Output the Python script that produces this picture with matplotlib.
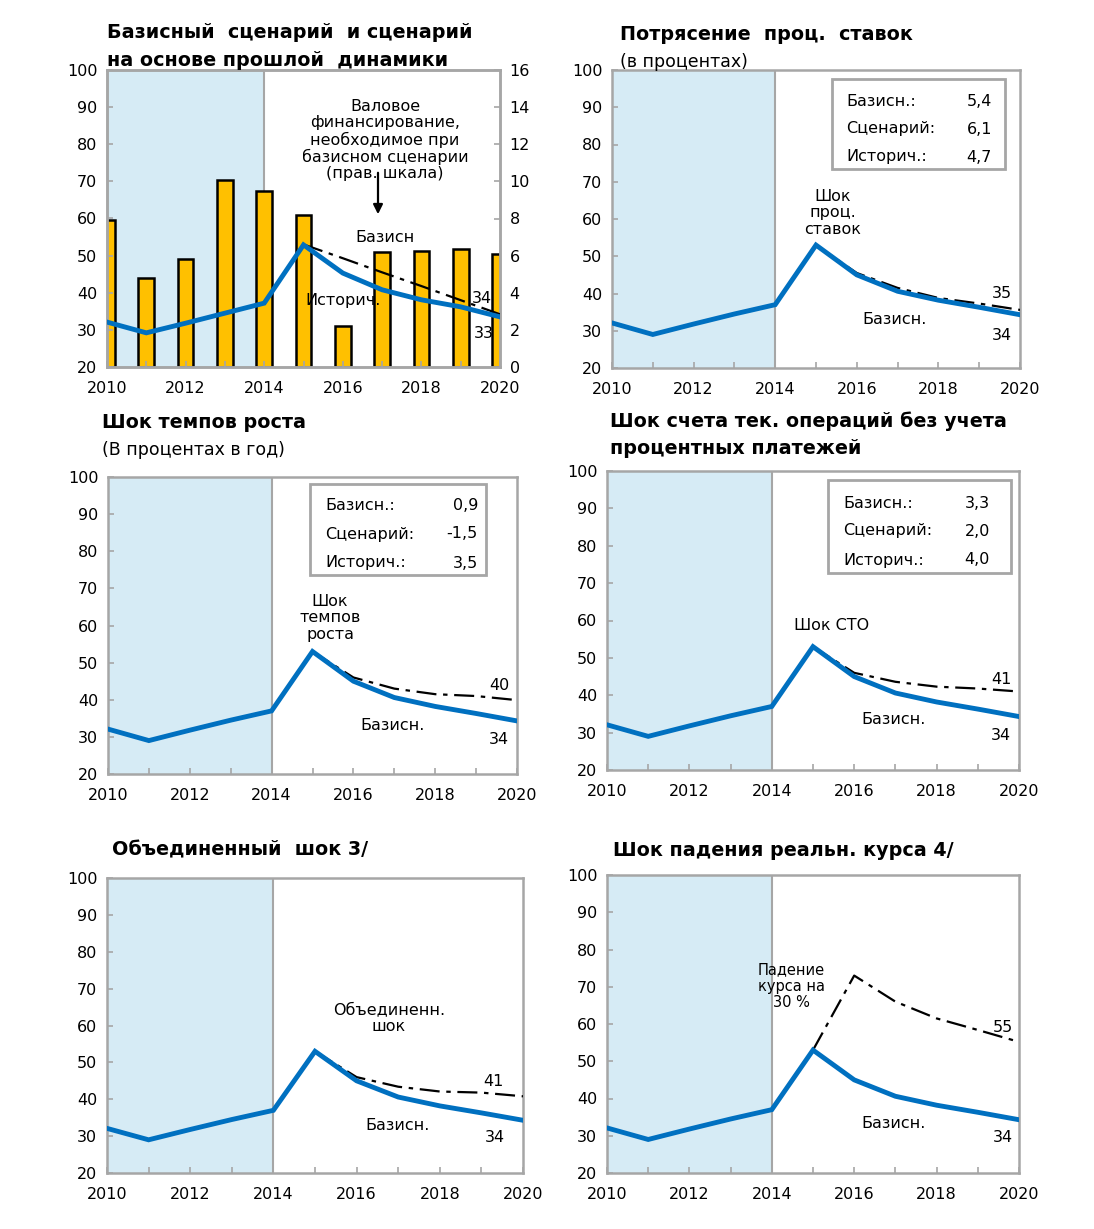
import matplotlib
matplotlib.use("Agg")
import matplotlib.pyplot as plt
from matplotlib.patches import Rectangle

# ---------------- data ----------------
years = list(range(2010, 2021))
proj_years = list(range(2015, 2021))
baseline = [32.1, 29.0, 31.8, 34.5, 37.0, 53.0, 45.0, 40.6, 38.2, 36.3, 34.3]
baseline_p1 = [32.1, 29.2, 31.8, 34.5, 37.2, 52.9, 45.3, 40.8, 38.1, 36.2, 33.5]
historical = [53.0, 49.3, 45.5, 41.8, 38.0, 34.2]
gross_financing = [7.9, 4.8, 5.8, 10.1, 9.5, 8.2, 2.2, 6.2, 6.25, 6.35, 6.1]
interest_shock = [53.0, 45.5, 41.5, 38.8, 37.3, 35.6]
growth_shock = [53.0, 46.0, 43.0, 41.5, 41.0, 39.9]
cab_shock = [53.0, 46.0, 43.6, 42.3, 41.8, 41.0]
combined_shock = [53.0, 46.0, 43.4, 42.1, 41.8, 40.8]
depreciation_shock = [53.0, 73.0, 66.0, 61.5, 58.4, 55.2]

box_labels = ["Базисн.:", "Сценарий:", "Историч.:"]
box_interest = ["5,4", "6,1", "4,7"]
box_growth = ["0,9", "-1,5", "3,5"]
box_cab = ["3,3", "2,0", "4,0"]

# ---------------- style ----------------
plt.rcParams['font.family'] = ['DejaVu Sans']
W, H = 1094, 1229
fig = plt.figure(figsize=(W / 100, H / 100), dpi=100)

BLUE = '#0070C0'
SHADE = '#D6EBF5'
FRAME = '#A6A6A6'
GOLD = '#FFC000'
FS = 11.5
TFS = 13.8
DASH = (0, (9, 3, 2, 3))


def px_axes(x0, y0, x1, y1):
    return fig.add_axes([x0 / W, 1 - y1 / H, (x1 - x0) / W, (y1 - y0) / H])


def ftext(px, py, s, **kw):
    kw.setdefault('fontsize', FS)
    kw.setdefault('ha', 'left')
    kw.setdefault('va', 'center')
    fig.text(px / W, 1 - py / H, s, **kw)


def base_axes(ax):
    ax.set_xlim(2010, 2020)
    ax.set_ylim(20, 100)
    ax.axvspan(2010, 2014, color=SHADE, zorder=0, lw=0)
    ax.axvline(2014, color=FRAME, lw=1.5, zorder=1)
    ax.set_yticks(range(20, 101, 10))
    ax.set_xticks(range(2010, 2021, 2))
    ax.set_xticks(range(2010, 2021, 1), minor=True)
    ax.tick_params(axis='both', which='both', direction='in', color=FRAME,
                   labelsize=FS, length=4, width=1.2, pad=7)
    ax.tick_params(axis='x', which='minor', length=4)
    ax.tick_params(axis='x', pad=10)
    for s in ax.spines.values():
        s.set_color(FRAME)
        s.set_linewidth(1.8)


def box(x0, y0, x1, y1, rows, vals, lx, vx, ys):
    fig.patches.append(Rectangle((x0 / W, 1 - y1 / H), (x1 - x0) / W, (y1 - y0) / H,
                                 transform=fig.transFigure, fill=True, facecolor='white',
                                 edgecolor=FRAME, lw=2, zorder=5))
    for lab, v, y in zip(rows, vals, ys):
        ftext(lx, y, lab, zorder=6)
        ftext(vx, y, v, ha='right', zorder=6)


# ---------------- panel 1 ----------------
ax1 = px_axes(107, 70, 500, 367)
base_axes(ax1)
ax1r = ax1.twinx()
ax1r.set_ylim(0, 16)
ax1r.set_yticks(range(0, 17, 2))
ax1r.tick_params(axis='y', direction='in', color=FRAME, labelsize=FS, length=4, width=1.2, pad=7)
for s in ax1r.spines.values():
    s.set_color(FRAME)
    s.set_linewidth(1.8)
ax1r.bar(years, gross_financing, width=0.4, color=GOLD, edgecolor='black', linewidth=1.8, zorder=2)
# lines drawn on the left (20-100) scale via the left axes, above the bars
ax1.set_zorder(ax1r.get_zorder() + 1)
ax1.patch.set_visible(False)
ax1r.patch.set_visible(True)
ax1r.patch.set_facecolor('none')
ax1.plot(years, baseline_p1, color=BLUE, lw=3.5, zorder=4, solid_joinstyle='miter')
ax1.plot(proj_years, historical, color='black', lw=1.6, linestyle=DASH, zorder=3)

# shading must stay behind bars: draw it on a background axes
ax1.patches[0].remove() if ax1.patches else None
ax1.lines[0].remove()  # remove axvline from front axes
axbg = px_axes(107, 70, 500, 367)
axbg.set_zorder(ax1r.get_zorder() - 1)
axbg.set_xlim(2010, 2020)
axbg.axvspan(2010, 2014, color=SHADE, lw=0)
axbg.axvline(2014, color=FRAME, lw=1.5)
axbg.axis('off')
fig.patch.set_facecolor('white')

ftext(107, 33, "Базисный  сценарий  и сценарий", fontsize=TFS, fontweight='bold')
ftext(107, 60, "на основе прошлой  динамики", fontsize=TFS, fontweight='bold')
ftext(385, 140, "Валовое\nфинансирование,\nнеобходимое при\nбазисном сценарии\n(прав. шкала)",
      ha='center', linespacing=1.1)
fig.add_artist(matplotlib.patches.FancyArrowPatch((378 / W, 1 - 170 / H), (378 / W, 1 - 217 / H),
                                                  transform=fig.transFigure, arrowstyle='-|>',
                                                  mutation_scale=14, color='black', lw=1.6))
ftext(355, 237, "Базисн")
ftext(305, 300, "Историч.")
ftext(472, 298, "34")
ftext(474, 333, "33")

# ---------------- generic shock panels ----------------
def shock_panel(rect, scen):
    ax = px_axes(*rect)
    base_axes(ax)
    ax.plot(years, baseline, color=BLUE, lw=3.5, zorder=4, solid_joinstyle='miter')
    ax.plot(proj_years, scen, color='black', lw=1.6, linestyle=DASH, zorder=3)
    return ax


ax2 = shock_panel((612, 70, 1020, 368), interest_shock)
ftext(620, 35, "Потрясение  проц.  ставок", fontsize=TFS, fontweight='bold')
ftext(620, 62, "(в процентах)", fontsize=12.5)
box(832, 79, 1005, 169, box_labels, box_interest, 846, 992, [101, 129, 157])
ftext(833, 213, "Шок\nпроц.\nставок", ha='center', linespacing=1.15)
ftext(862, 319, "Базисн.")
ftext(992, 294, "35")
ftext(992, 335, "34")

ax3 = shock_panel((108, 477, 517, 774), growth_shock)
ftext(102, 423, "Шок темпов роста", fontsize=TFS, fontweight='bold')
ftext(102, 450, "(В процентах в год)", fontsize=12.5)
box(310, 484, 486, 575, box_labels, box_growth, 325, 478, [506, 534, 563])
ftext(330, 618, "Шок\nтемпов\nроста", ha='center', linespacing=1.15)
ftext(360, 726, "Базисн.")
ftext(489, 686, "40")
ftext(489, 739, "34")

ax4 = shock_panel((607, 471, 1019, 770), cab_shock)
ftext(610, 421, "Шок счета тек. операций без учета", fontsize=TFS, fontweight='bold')
ftext(610, 448, "процентных платежей", fontsize=TFS, fontweight='bold')
box(828, 480, 1011, 573, box_labels, box_cab, 843, 990, [503, 531, 560])
ftext(832, 625, "Шок СТО", ha='center')
ftext(861, 720, "Базисн.")
ftext(991, 679, "41")
ftext(991, 736, "34")

ax5 = shock_panel((107, 878, 523, 1173), combined_shock)
ftext(112, 850, "Объединенный  шок 3/", fontsize=TFS, fontweight='bold')
ftext(389, 1018, "Объединенн.\nшок", ha='center', linespacing=1.2)
ftext(365, 1125, "Базисн.")
ftext(483, 1081, "41")
ftext(485, 1137, "34")

ax6 = shock_panel((607, 875, 1019, 1173), depreciation_shock)
ftext(613, 851, "Шок падения реальн. курса 4/", fontsize=TFS, fontweight='bold')
ftext(791, 986, "Падение\nкурса на\n30 %", ha='center', linespacing=1.1, fontsize=10.5)
ftext(861, 1124, "Базисн.")
ftext(993, 1028, "55")
ftext(993, 1137, "34")

fig.savefig("out.png", dpi=100, facecolor='white')
